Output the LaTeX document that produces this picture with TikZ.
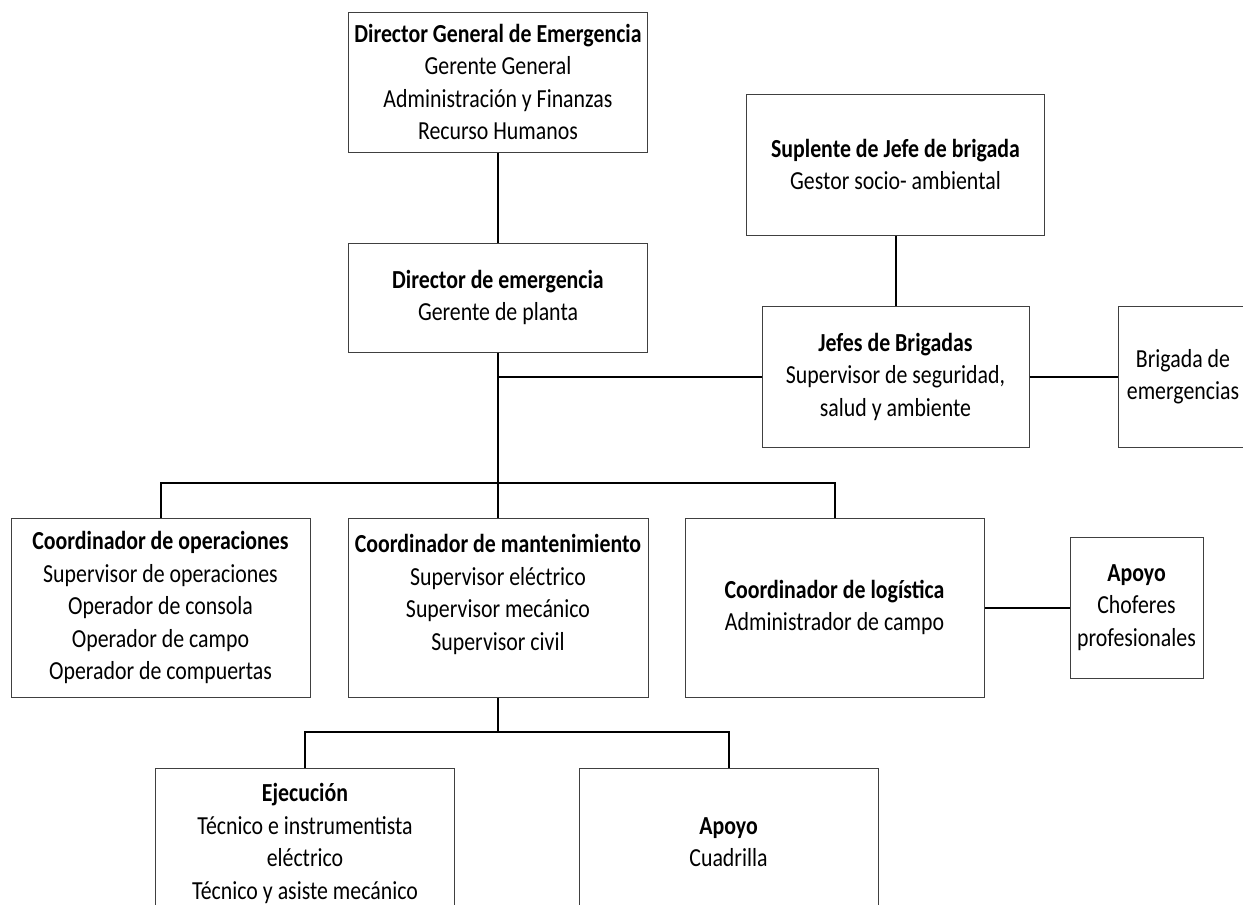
\documentclass[tikz,border=0pt]{standalone}
\usepackage{fontspec}
\setmainfont{Carlito}[FakeStretch=0.84]
\begin{document}
\begin{tikzpicture}[x=1pt,y=-1pt,
  box/.style={draw=black!75,line width=1pt,rectangle,inner sep=0pt,
    align=center,font=\fontsize{26}{32.5}\selectfont},
  txt/.style={inner sep=0pt,align=center,font=\fontsize{26}{32.5}\selectfont},
  conn/.style={draw=black,line width=2pt}]
\useasboundingbox (0,0) rectangle (1243,905);

% top level
\node[box,minimum width=299,minimum height=140] (dge) at (498,82)
  {\textbf{Director General de Emergencia}\\Gerente General\\Administración y Finanzas\\Recurso Humanos};
\node[box,minimum width=299,minimum height=109] (de) at (498,297.5)
  {\textbf{Director de emergencia}\\Gerente de planta};

% brigade branch
\node[box,minimum width=298,minimum height=141] (sup) at (895.5,164.5)
  {\textbf{Suplente de Jefe de brigada}\\Gestor socio- ambiental};
\node[box,minimum width=267,minimum height=141] (jef) at (895.5,376.5)
  {\textbf{Jefes de Brigadas}\\Supervisor de seguridad,\\salud y ambiente};
\node[box,minimum width=130,minimum height=141] (brig) at (1183,376.5)
  {Brigada de\\emergencias};

% coordinators
\node[box,minimum width=299,minimum height=179] (ops) at (160.5,607.5)
  {\textbf{Coordinador de operaciones}\\Supervisor de operaciones\\Operador de consola\\Operador de campo\\Operador de compuertas};
\node[box,minimum width=300,minimum height=179] (mant) at (498,607.5) {};
\node[txt,anchor=north] (manttxt) at ([yshift=-17]mant.north)
  {\textbf{Coordinador de mantenimiento}\\Supervisor eléctrico\\Supervisor mecánico\\Supervisor civil};
\node[box,minimum width=299,minimum height=179] (log) at (834.5,607.5)
  {\textbf{Coordinador de logística}\\Administrador de campo};
\node[box,minimum width=133,minimum height=141] (chof) at (1136.5,607.5)
  {\textbf{Apoyo}\\Choferes\\profesionales};

% maintenance crews
\node[box,minimum width=299,minimum height=160] (ejec) at (305,848) {};
\node[txt,anchor=north] (ejectxt) at ([yshift=-16]ejec.north)
  {\textbf{Ejecución}\\Técnico e instrumentista\\eléctrico\\Técnico y asiste mecánico};
\node[box,minimum width=299,minimum height=148] (cuad) at (728.5,842)
  {\textbf{Apoyo}\\Cuadrilla};

% connectors
\coordinate (bus) at (498,483);
\coordinate (bus2) at (498,732);
\draw[conn] (dge.south) -- (de.north);
\draw[conn] (de.south) -- (bus);
\draw[conn] (jef.west) -- (jef.west -| de.south);
\draw[conn] (sup.south) -- (jef.north);
\draw[conn] (jef.east) -- (brig.west);
\draw[conn] (ops.north) |- (bus) -| (log.north);
\draw[conn] (bus) -- (mant.north);
\draw[conn] (log.east) -- (chof.west);
\draw[conn] (mant.south) -- (bus2);
\draw[conn] (ejec.north) |- (bus2) -| (cuad.north);
\end{tikzpicture}
\end{document}
